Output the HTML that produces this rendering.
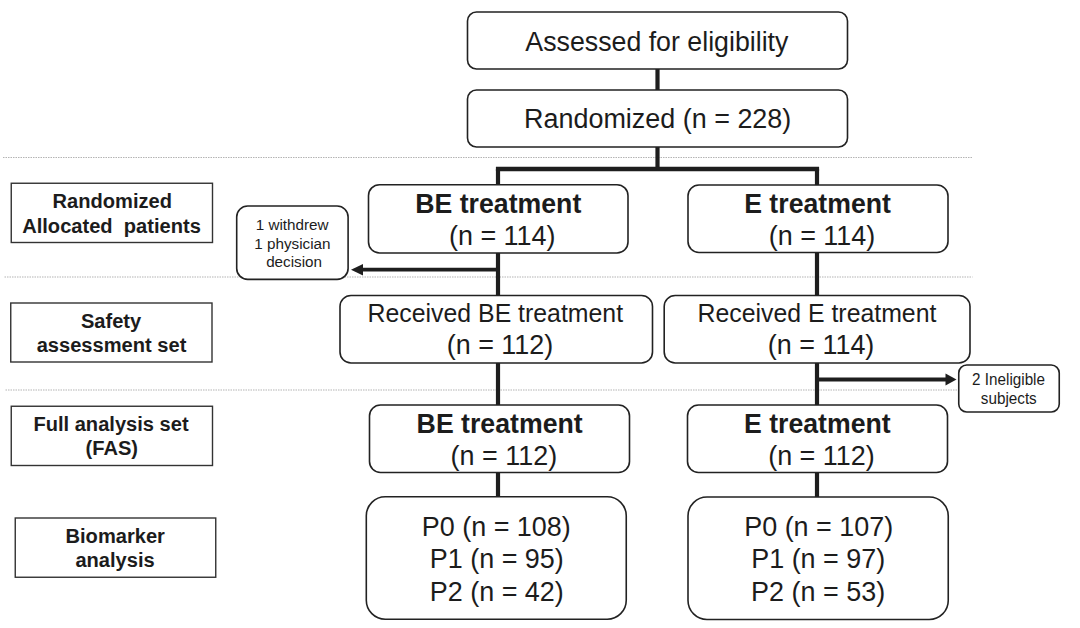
<!DOCTYPE html>
<html><head><meta charset="utf-8"><style>
html,body{margin:0;padding:0;background:#fff;width:1080px;height:628px;overflow:hidden}
svg{display:block;font-family:"Liberation Sans",sans-serif}
</style></head><body>
<svg width="1080" height="628" viewBox="0 0 1080 628">
<line x1="3" y1="157.5" x2="972.5" y2="157.5" stroke="#b4b4b4" stroke-width="1.2" stroke-dasharray="1.5 1"/>
<line x1="4.5" y1="277" x2="972.5" y2="277" stroke="#b4b4b4" stroke-width="1.2" stroke-dasharray="1.5 1"/>
<line x1="5.5" y1="390" x2="972.5" y2="390" stroke="#b4b4b4" stroke-width="1.2" stroke-dasharray="1.5 1"/>
<line x1="657.5" y1="68" x2="657.5" y2="91" stroke="#1e1e1e" stroke-width="4.2"/>
<line x1="657.5" y1="146" x2="657.5" y2="169" stroke="#1e1e1e" stroke-width="4.2"/>
<line x1="495.9" y1="169" x2="819.1" y2="169" stroke="#1e1e1e" stroke-width="4.3"/>
<line x1="498" y1="169" x2="498" y2="185" stroke="#1e1e1e" stroke-width="4.2"/>
<line x1="817" y1="169" x2="817" y2="186" stroke="#1e1e1e" stroke-width="4.2"/>
<line x1="498" y1="252" x2="498" y2="296" stroke="#1e1e1e" stroke-width="4.2"/>
<line x1="817" y1="252" x2="817" y2="296" stroke="#1e1e1e" stroke-width="4.2"/>
<line x1="498" y1="362" x2="498" y2="406" stroke="#1e1e1e" stroke-width="4.2"/>
<line x1="817" y1="362" x2="817" y2="406" stroke="#1e1e1e" stroke-width="4.2"/>
<line x1="498" y1="471" x2="498" y2="497" stroke="#1e1e1e" stroke-width="4.2"/>
<line x1="817" y1="471" x2="817" y2="498" stroke="#1e1e1e" stroke-width="4.2"/>
<line x1="498" y1="269.7" x2="360" y2="269.7" stroke="#1e1e1e" stroke-width="3.8"/>
<polygon points="351,269.7 363,263.9 363,275.5" fill="#1e1e1e"/>
<line x1="817" y1="379.5" x2="946" y2="379.5" stroke="#1e1e1e" stroke-width="4"/>
<polygon points="956.5,379.5 945.5,373.5 945.5,385.5" fill="#1e1e1e"/>
<rect x="467.5" y="12" width="380.0" height="57" rx="9" ry="9" fill="#fff" stroke="#222" stroke-width="1.6"/>
<rect x="467.5" y="90" width="380.0" height="57" rx="9" ry="9" fill="#fff" stroke="#222" stroke-width="1.6"/>
<rect x="368.5" y="184.7" width="259.5" height="68.30000000000001" rx="11" ry="11" fill="#fff" stroke="#222" stroke-width="1.6"/>
<rect x="688" y="185" width="260" height="67.5" rx="11" ry="11" fill="#fff" stroke="#222" stroke-width="1.6"/>
<rect x="340" y="295.5" width="312.5" height="67.5" rx="11" ry="11" fill="#fff" stroke="#222" stroke-width="1.6"/>
<rect x="664.2" y="295.5" width="305.79999999999995" height="67.5" rx="11" ry="11" fill="#fff" stroke="#222" stroke-width="1.6"/>
<rect x="369.5" y="405" width="260.0" height="67.5" rx="11" ry="11" fill="#fff" stroke="#222" stroke-width="1.6"/>
<rect x="687.5" y="405" width="260.0" height="67.5" rx="11" ry="11" fill="#fff" stroke="#222" stroke-width="1.6"/>
<rect x="366.3" y="496.8" width="259.95" height="122.40000000000003" rx="19" ry="19" fill="#fff" stroke="#222" stroke-width="1.6"/>
<rect x="688" y="497" width="260.25" height="122.5" rx="19" ry="19" fill="#fff" stroke="#222" stroke-width="1.6"/>
<rect x="236.7" y="206" width="111.40000000000003" height="73.39999999999998" rx="11" ry="11" fill="#fff" stroke="#222" stroke-width="1.6"/>
<rect x="958.75" y="365" width="100.5" height="47" rx="8" ry="8" fill="#fff" stroke="#222" stroke-width="1.6"/>
<rect x="11.25" y="183.25" width="201.25" height="59.25" rx="0" ry="0" fill="#fff" stroke="#333" stroke-width="1.4"/>
<rect x="10.75" y="303" width="201.25" height="59" rx="0" ry="0" fill="#fff" stroke="#333" stroke-width="1.4"/>
<rect x="11.25" y="406.25" width="201.25" height="59.25" rx="0" ry="0" fill="#fff" stroke="#333" stroke-width="1.4"/>
<rect x="15.25" y="518" width="200.5" height="59.25" rx="0" ry="0" fill="#fff" stroke="#333" stroke-width="1.4"/>
<text transform="translate(656.85 51.199999999999996) scale(1 1.04)" font-size="26.75" fill="#1c1c1c" text-anchor="middle" xml:space="preserve">Assessed for eligibility</text>
<text transform="translate(657.65 128.3) scale(1 1.04)" font-size="26.95" fill="#1c1c1c" text-anchor="middle" xml:space="preserve">Randomized (n = 228)</text>
<text transform="translate(498.25 212.5) scale(1 1.04)" font-size="26.7" font-weight="bold" fill="#1c1c1c" text-anchor="middle" xml:space="preserve">BE treatment</text>
<text transform="translate(502.25 244.5) scale(1 1.04)" font-size="26.95" fill="#1c1c1c" text-anchor="middle" xml:space="preserve">(n = 114)</text>
<text transform="translate(817.55 212.5) scale(1 1.04)" font-size="26.7" font-weight="bold" fill="#1c1c1c" text-anchor="middle" xml:space="preserve">E treatment</text>
<text transform="translate(822.0 244.5) scale(1 1.04)" font-size="26.95" fill="#1c1c1c" text-anchor="middle" xml:space="preserve">(n = 114)</text>
<text transform="translate(495.33 322) scale(1 1.04)" font-size="24.85" fill="#1c1c1c" text-anchor="middle" xml:space="preserve">Received BE treatment</text>
<text transform="translate(500.0 354) scale(1 1.04)" font-size="26.95" fill="#1c1c1c" text-anchor="middle" xml:space="preserve">(n = 112)</text>
<text transform="translate(816.95 322) scale(1 1.04)" font-size="24.85" fill="#1c1c1c" text-anchor="middle" xml:space="preserve">Received E treatment</text>
<text transform="translate(821.05 354) scale(1 1.04)" font-size="26.95" fill="#1c1c1c" text-anchor="middle" xml:space="preserve">(n = 114)</text>
<text transform="translate(499.65 433) scale(1 1.04)" font-size="26.7" font-weight="bold" fill="#1c1c1c" text-anchor="middle" xml:space="preserve">BE treatment</text>
<text transform="translate(503.85 465) scale(1 1.04)" font-size="26.95" fill="#1c1c1c" text-anchor="middle" xml:space="preserve">(n = 112)</text>
<text transform="translate(817.35 433) scale(1 1.04)" font-size="26.7" font-weight="bold" fill="#1c1c1c" text-anchor="middle" xml:space="preserve">E treatment</text>
<text transform="translate(821.45 465) scale(1 1.04)" font-size="26.95" fill="#1c1c1c" text-anchor="middle" xml:space="preserve">(n = 112)</text>
<text transform="translate(496.28 535.5) scale(1 1.04)" font-size="26.95" fill="#1c1c1c" text-anchor="middle" xml:space="preserve">P0 (n = 108)</text>
<text transform="translate(496.78 568) scale(1 1.04)" font-size="26.95" fill="#1c1c1c" text-anchor="middle" xml:space="preserve">P1 (n = 95)</text>
<text transform="translate(496.78 600.5) scale(1 1.04)" font-size="26.95" fill="#1c1c1c" text-anchor="middle" xml:space="preserve">P2 (n = 42)</text>
<text transform="translate(818.72 535.5) scale(1 1.04)" font-size="26.95" fill="#1c1c1c" text-anchor="middle" xml:space="preserve">P0 (n = 107)</text>
<text transform="translate(818.22 568) scale(1 1.04)" font-size="26.95" fill="#1c1c1c" text-anchor="middle" xml:space="preserve">P1 (n = 97)</text>
<text transform="translate(818.1 600.5) scale(1 1.04)" font-size="26.95" fill="#1c1c1c" text-anchor="middle" xml:space="preserve">P2 (n = 53)</text>
<text transform="translate(112.28 208) scale(1 1.04)" font-size="20.1" font-weight="bold" fill="#1c1c1c" text-anchor="middle" xml:space="preserve">Randomized</text>
<text transform="translate(111.5 232.5) scale(1 1.04)" font-size="20.1" font-weight="bold" fill="#1c1c1c" text-anchor="middle" xml:space="preserve">Allocated  patients</text>
<text transform="translate(111.05 328) scale(1 1.04)" font-size="20.1" font-weight="bold" fill="#1c1c1c" text-anchor="middle" xml:space="preserve">Safety</text>
<text transform="translate(111.5 352) scale(1 1.04)" font-size="20.1" font-weight="bold" fill="#1c1c1c" text-anchor="middle" xml:space="preserve">assessment set</text>
<text transform="translate(111.0 431.3) scale(1 1.04)" font-size="20.1" font-weight="bold" fill="#1c1c1c" text-anchor="middle" xml:space="preserve">Full analysis set</text>
<text transform="translate(111.78 455) scale(1 1.04)" font-size="20.1" font-weight="bold" fill="#1c1c1c" text-anchor="middle" xml:space="preserve">(FAS)</text>
<text transform="translate(115.22 542.5) scale(1 1.04)" font-size="20.1" font-weight="bold" fill="#1c1c1c" text-anchor="middle" xml:space="preserve">Biomarker</text>
<text transform="translate(115.05 566.8) scale(1 1.04)" font-size="20.1" font-weight="bold" fill="#1c1c1c" text-anchor="middle" xml:space="preserve">analysis</text>
<text transform="translate(292.1 229.5) scale(1 0.96)" font-size="15.25" fill="#1c1c1c" text-anchor="middle" xml:space="preserve">1 withdrew</text>
<text transform="translate(292.4 248.6) scale(1 0.96)" font-size="15.25" fill="#1c1c1c" text-anchor="middle" xml:space="preserve">1 physician</text>
<text transform="translate(294.1 267) scale(1 0.96)" font-size="15.25" fill="#1c1c1c" text-anchor="middle" xml:space="preserve">decision</text>
<text transform="translate(1008.55 385.3) scale(1 1.06)" font-size="15.25" fill="#1c1c1c" text-anchor="middle" xml:space="preserve">2 Ineligible</text>
<text transform="translate(1008.78 403.8) scale(1 1.06)" font-size="15.25" fill="#1c1c1c" text-anchor="middle" xml:space="preserve">subjects</text>
</svg></body></html>
